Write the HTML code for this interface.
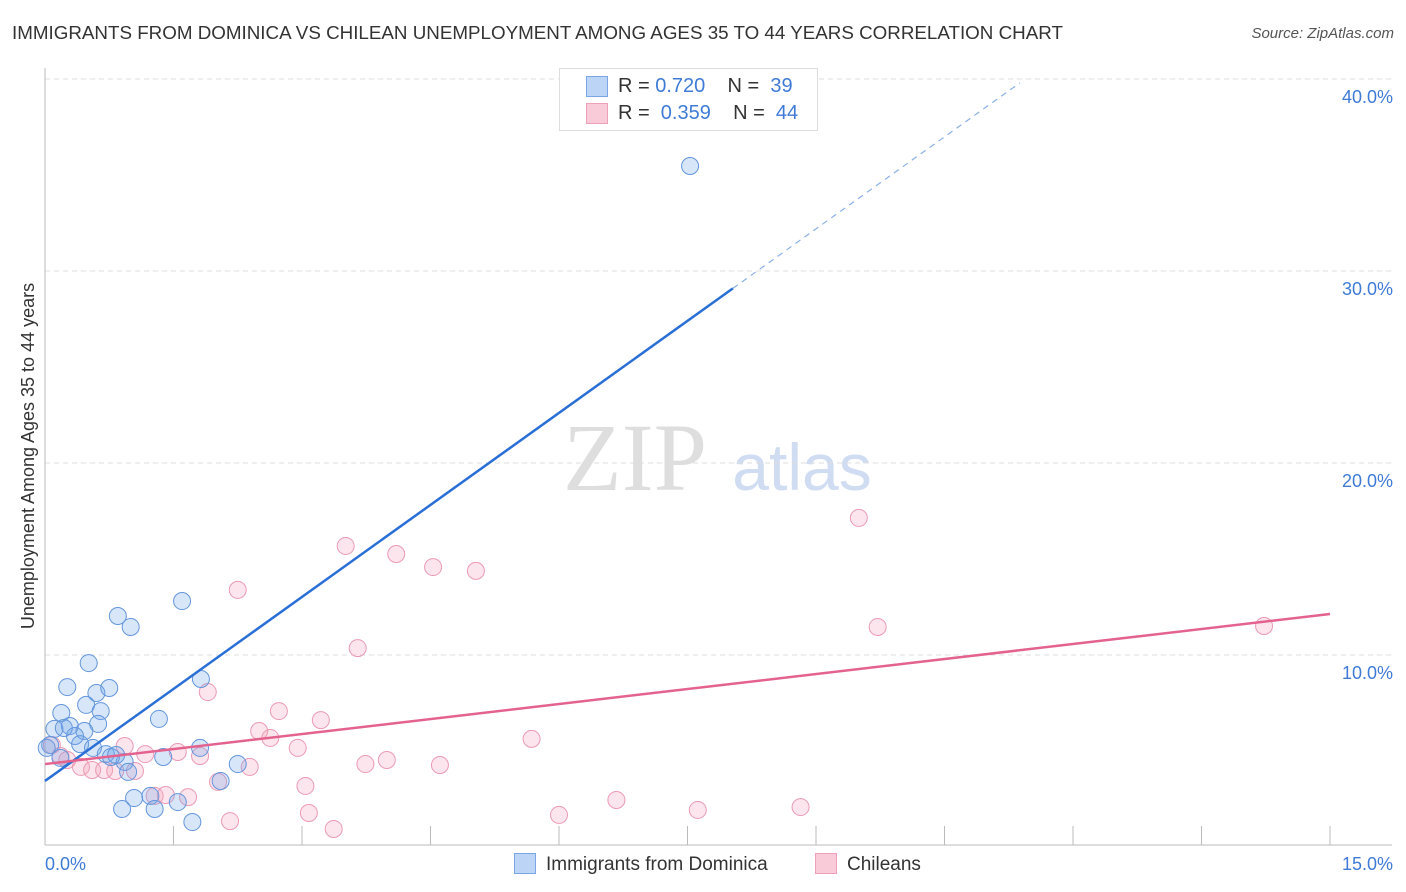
<!DOCTYPE html>
<html><head><meta charset="utf-8"><style>
body{margin:0;background:#fff;font-family:"Liberation Sans",sans-serif;}
#wrap{position:relative;width:1406px;height:892px;overflow:hidden;}
.t{position:absolute;white-space:nowrap;}
</style></head><body>
<div id="wrap">
<div class="t" style="left:12px;top:22px;font-size:18.8px;color:#333;">IMMIGRANTS FROM DOMINICA VS CHILEAN UNEMPLOYMENT AMONG AGES 35 TO 44 YEARS CORRELATION CHART</div>
<div class="t" style="right:12px;top:25px;font-size:15px;color:#555;font-style:italic;">Source: ZipAtlas.com</div>
<svg id="svg" width="1406" height="892" style="position:absolute;left:0;top:0"></svg>
</div>
<script>
const blueX=[7.53,1.60,0.85,1.00,0.51,0.26,0.60,0.75,1.82,0.48,0.65,0.19,1.33,0.62,0.29,0.11,0.46,0.35,0.41,0.56,0.06,0.71,0.93,1.38,1.81,0.97,2.25,2.05,1.23,1.04,1.55,0.90,1.28,1.72,0.18,0.77,0.02,0.22,0.83];
const blueY=[35.47,12.81,12.03,11.46,9.58,8.33,8.02,8.28,8.75,7.40,7.08,6.98,6.67,6.41,6.30,6.15,6.04,5.78,5.36,5.16,5.31,4.84,4.43,4.69,5.16,3.91,4.32,3.44,2.66,2.55,2.34,1.98,1.98,1.30,4.64,4.69,5.16,6.2,4.79];
const pinkX=[9.50,2.25,3.51,4.10,4.53,5.03,3.65,9.72,14.23,1.90,2.73,3.22,2.50,2.63,5.68,2.95,0.93,1.17,1.55,1.81,0.18,0.08,0.42,0.55,0.69,0.82,1.05,2.39,3.74,3.99,4.61,2.02,3.04,1.28,1.41,1.67,2.16,3.08,3.37,6.00,6.67,7.62,8.82,0.26];
const pinkY=[17.14,13.39,15.68,15.26,14.58,14.38,10.36,11.46,11.51,8.07,7.08,6.61,6.04,5.68,5.63,5.16,5.26,4.84,4.95,4.74,4.74,5.31,4.17,4.01,4.01,3.96,3.96,4.17,4.32,4.53,4.27,3.39,3.18,2.66,2.71,2.60,1.35,1.77,0.94,1.67,2.45,1.93,2.08,4.53];
const blueFit=[3.44,3.195];
const pinkFit=[4.32,0.521];
const yTicks=[10,20,30,40];
const yTickLabels=["10.0%","20.0%","30.0%","40.0%"];
const xTicks=[0,1.5,3,4.5,6,7.5,9,10.5,12,13.5,15];

const NS="http://www.w3.org/2000/svg";
const svg=document.getElementById('svg');
const X=v=>45+v/15*1285;
const Y=v=>847-v/10*192;
function mk(tag,attrs,parent){const e=document.createElementNS(NS,tag);for(const k in attrs)e.setAttribute(k,attrs[k]);(parent||svg).appendChild(e);return e;}

let wm=mk('text',{x:635,y:490,'font-size':96,'font-family':'Liberation Serif,serif',fill:'#dedede','text-anchor':'middle'});
wm.textContent='ZIP';


let wm2=mk('text',{x:802,y:490,'font-size':66,'font-family':'Liberation Sans,sans-serif',fill:'#cfdcf2','text-anchor':'middle'});
wm2.textContent='atlas';



yTicks.forEach((v,i)=>{
  let g=mk('line',{x1:45,x2:1392,y1:Y(v),y2:Y(v),stroke:'#ddd','stroke-dasharray':'5,4'});
  
  
  let t=mk('text',{x:1393,y:Y(v)+24,'font-size':18,fill:'#3f7bd6','text-anchor':'end'});
  t.textContent=yTickLabels[i];
  
  
});
let ax=mk('line',{x1:45,x2:45,y1:68,y2:845,stroke:'#bbb'});


let bx=mk('line',{x1:45,x2:1392,y1:845,y2:845,stroke:'#bbb'});


xTicks.forEach(v=>{
  let l=mk('line',{x1:X(v),x2:X(v),y1:826,y2:845,stroke:'#bbb'});
  
  
});
let xl0=mk('text',{x:45,y:870,'font-size':18,fill:'#3f7bd6'});xl0.textContent='0.0%';


let xl1=mk('text',{x:1393,y:870,'font-size':18,fill:'#3f7bd6','text-anchor':'end'});xl1.textContent='15.0%';


let yt=mk('text',{x:0,y:0,'font-size':18,fill:'#333','text-anchor':'middle',transform:'translate(34,456) rotate(-90)'});
yt.textContent='Unemployment Among Ages 35 to 44 years';



function dots(xs,ys,fill,stroke,name){
  xs.forEach((x,i)=>{
    let c=mk('circle',{cx:X(x),cy:Y(ys[i]),r:8.5,fill:fill,stroke:stroke,'stroke-width':1});
    
    
  });
}
dots(pinkX,pinkY,'rgba(244,160,188,0.28)','#eb9ab4','chileans-point');
dots(blueX,blueY,'rgba(110,165,235,0.28)','#6496dc','dominica-point');

const bEnd=8.03, bDash=11.38;
let bl=mk('line',{x1:X(0),y1:Y(blueFit[0]),x2:X(bEnd),y2:Y(blueFit[0]+blueFit[1]*bEnd),stroke:'#2a6fd6','stroke-width':2.5});


let bd=mk('line',{x1:X(bEnd),y1:Y(blueFit[0]+blueFit[1]*bEnd),x2:X(bDash),y2:Y(blueFit[0]+blueFit[1]*bDash),stroke:'#8ab0e6','stroke-width':1.2,'stroke-dasharray':'6,5'});


let pl=mk('line',{x1:X(0),y1:Y(pinkFit[0]),x2:X(15),y2:Y(pinkFit[0]+pinkFit[1]*15),stroke:'#e4628e','stroke-width':2.5});


</script>
<div class="t" style="left:559px;top:68px;width:257px;height:61px;border:1px solid #ddd;background:#fff;font-size:20px;color:#333;">
  <div style="position:absolute;left:26px;top:7px;width:20px;height:19px;background:#bcd4f5;border:1px solid #7aa6e6;"></div>
  <div class="t" style="left:58px;top:6px;">R = <span style="color:#3f7bd6">0.720</span>&nbsp;&nbsp;&nbsp; N = &nbsp;<span style="color:#3f7bd6">39</span></div>
  <div style="position:absolute;left:26px;top:34px;width:20px;height:19px;background:#f9cbd8;border:1px solid #eea0b8;"></div>
  <div class="t" style="left:58px;top:33px;">R = &nbsp;<span style="color:#3f7bd6">0.359</span>&nbsp;&nbsp;&nbsp; N = &nbsp;<span style="color:#3f7bd6">44</span></div>
</div>
<div class="t" style="left:514px;top:853px;font-size:19px;color:#333;">
  <span style="display:inline-block;width:20px;height:19px;background:#bcd4f5;border:1px solid #7aa6e6;vertical-align:-4px;margin-right:10px;"></span>Immigrants from Dominica</div>
<div class="t" style="left:815px;top:853px;font-size:19px;color:#333;">
  <span style="display:inline-block;width:20px;height:19px;background:#f9cbd8;border:1px solid #eea0b8;vertical-align:-4px;margin-right:10px;"></span>Chileans</div>
</body></html>
